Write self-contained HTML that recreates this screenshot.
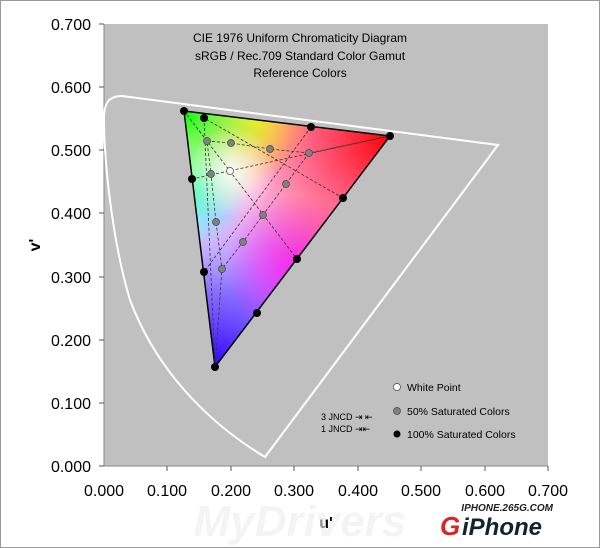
<!DOCTYPE html>
<html><head><style>body{margin:0;background:#fff}svg{display:block}</style></head><body>
<svg width="600" height="548" viewBox="0 0 600 548" xmlns="http://www.w3.org/2000/svg" font-family="Liberation Sans, sans-serif">
<defs>
<radialGradient id="gr" cx="390" cy="136" r="210" gradientUnits="userSpaceOnUse"><stop offset="0" stop-color="#ff0000"/><stop offset="0.55" stop-color="#ff0050" stop-opacity="0.45"/><stop offset="1" stop-color="#ff00ff" stop-opacity="0"/></radialGradient>
<radialGradient id="gg" cx="184" cy="111" r="110" gradientUnits="userSpaceOnUse"><stop offset="0" stop-color="#00ff00"/><stop offset="0.5" stop-color="#80ff40" stop-opacity="0.55"/><stop offset="1" stop-color="#ffff00" stop-opacity="0"/></radialGradient>
<radialGradient id="gb" cx="215" cy="367" r="190" gradientUnits="userSpaceOnUse"><stop offset="0" stop-color="#3000ff"/><stop offset="0.4" stop-color="#6040ff" stop-opacity="0.75"/><stop offset="1" stop-color="#c080ff" stop-opacity="0"/></radialGradient>
<radialGradient id="gy" cx="250" cy="116" r="65" gradientUnits="userSpaceOnUse"><stop offset="0" stop-color="#ffff00" stop-opacity="0.9"/><stop offset="1" stop-color="#ffc000" stop-opacity="0"/></radialGradient>
<radialGradient id="gc" cx="195" cy="190" r="55" gradientUnits="userSpaceOnUse"><stop offset="0" stop-color="#00ffff" stop-opacity="0.8"/><stop offset="1" stop-color="#00ffff" stop-opacity="0"/></radialGradient>
<radialGradient id="gm" cx="300" cy="270" r="75" gradientUnits="userSpaceOnUse"><stop offset="0" stop-color="#ff00ff" stop-opacity="0.8"/><stop offset="1" stop-color="#ff00ff" stop-opacity="0"/></radialGradient>
<radialGradient id="gw" cx="232" cy="172" r="45" gradientUnits="userSpaceOnUse"><stop offset="0" stop-color="#fff" stop-opacity="0.9"/><stop offset="1" stop-color="#fff" stop-opacity="0"/></radialGradient>
<clipPath id="tri"><polygon points="390,136 184,111 215,367"/></clipPath>
</defs>
<rect x="0.5" y="0.5" width="599" height="547" fill="#fff" stroke="#999"/>
<rect x="104" y="24" width="444" height="442" fill="#c0c0c0"/>
<path d="M104,24V466H548" fill="none" stroke="#888"/>
<g stroke="#555">
<line x1="99" y1="24" x2="104" y2="24"/><line x1="99" y1="87" x2="104" y2="87"/><line x1="99" y1="150" x2="104" y2="150"/><line x1="99" y1="213" x2="104" y2="213"/><line x1="99" y1="277" x2="104" y2="277"/><line x1="99" y1="340" x2="104" y2="340"/><line x1="99" y1="403" x2="104" y2="403"/><line x1="99" y1="466" x2="104" y2="466"/>
<line x1="167" y1="466" x2="167" y2="471"/><line x1="231" y1="466" x2="231" y2="471"/><line x1="294" y1="466" x2="294" y2="471"/><line x1="358" y1="466" x2="358" y2="471"/><line x1="421" y1="466" x2="421" y2="471"/><line x1="485" y1="466" x2="485" y2="471"/><line x1="548" y1="466" x2="548" y2="471"/>
</g>
<g font-size="16" text-anchor="end" fill="#000">
<text x="91" y="30">0.700</text><text x="91" y="93">0.600</text><text x="91" y="156">0.500</text><text x="91" y="219">0.400</text><text x="91" y="283">0.300</text><text x="91" y="346">0.200</text><text x="91" y="409">0.100</text><text x="91" y="472">0.000</text>
</g>
<g font-size="16" text-anchor="middle">
<text x="104" y="496">0.000</text><text x="167" y="496">0.100</text><text x="231" y="496">0.200</text><text x="294" y="496">0.300</text><text x="358" y="496">0.400</text><text x="421" y="496">0.500</text><text x="485" y="496">0.600</text><text x="548" y="496">0.700</text>
</g>
<text x="326" y="528" font-size="16" font-weight="bold" text-anchor="middle">u'</text>
<text x="40" y="245" font-size="16" font-weight="bold" text-anchor="middle" transform="rotate(-90 40 245)">v'</text>
<g font-size="12" text-anchor="middle"><text x="300" y="42">CIE 1976 Uniform Chromaticity Diagram</text><text x="300" y="60">sRGB / Rec.709 Standard Color Gamut</text><text x="300" y="77">Reference Colors</text></g>
<path d="M498,145 L122,96 C109,96 104,103 104,118 C104,160 112,240 130,300 C160,380 220,430 265,457 L498,145 Z" fill="none" stroke="#fff" stroke-width="2"/>
<g clip-path="url(#tri)">
<rect x="180" y="100" width="220" height="280" fill="#fff"/>
<rect x="180" y="100" width="220" height="280" fill="url(#gb)"/>
<rect x="180" y="100" width="220" height="280" fill="url(#gm)"/>
<rect x="180" y="100" width="220" height="280" fill="url(#gr)"/>
<rect x="180" y="100" width="220" height="280" fill="url(#gc)"/>
<rect x="180" y="100" width="220" height="280" fill="url(#gy)"/>
<rect x="180" y="100" width="220" height="280" fill="url(#gg)"/>
<rect x="180" y="100" width="220" height="280" fill="url(#gw)"/>
</g>
<polygon points="390,136 184,111 215,367" fill="none" stroke="#000" stroke-width="1.5"/>
<g stroke="#333" stroke-width="0.8" stroke-dasharray="3,2" fill="none">
<line x1="184" y1="111" x2="297" y2="259"/><line x1="390" y1="136" x2="192" y2="179"/><line x1="204" y1="118" x2="215" y2="367"/>
<line x1="311" y1="127" x2="204" y2="272"/><line x1="343" y1="198" x2="204" y2="118"/>
<polyline points="207,141 231,143 270,149 309,153 390,136"/>
<polyline points="184,111 207,141 211,174 216,222 222,269 215,367"/>
<polyline points="309,153 286,184 263,215 243,242 222,269"/>
</g>
<g fill="#808080" stroke="#444" stroke-width="0.7">
<circle cx="207" cy="141" r="3.5"/><circle cx="231" cy="143" r="3.5"/><circle cx="270" cy="149" r="3.5"/><circle cx="309" cy="153" r="3.5"/><circle cx="211" cy="174" r="3.5"/><circle cx="286" cy="184" r="3.5"/><circle cx="263" cy="215" r="3.5"/><circle cx="216" cy="222" r="3.5"/><circle cx="243" cy="242" r="3.5"/><circle cx="222" cy="269" r="3.5"/>
</g>
<circle cx="230" cy="171" r="3.5" fill="#fff" stroke="#444" stroke-width="0.7"/>
<g fill="#000">
<circle cx="184" cy="111" r="4"/><circle cx="204" cy="118" r="4"/><circle cx="311" cy="127" r="4"/><circle cx="390" cy="136" r="4"/><circle cx="192" cy="179" r="4"/><circle cx="204" cy="272" r="4"/><circle cx="343" cy="198" r="4"/><circle cx="297" cy="259" r="4"/><circle cx="257" cy="313" r="4"/><circle cx="215" cy="367" r="4"/>
</g>
<circle cx="397" cy="387" r="3.5" fill="#fff" stroke="#444" stroke-width="0.7"/>
<circle cx="397" cy="411" r="3.5" fill="#808080" stroke="#444" stroke-width="0.7"/>
<circle cx="397" cy="434" r="3.5" fill="#000"/>
<g font-size="10.5"><text x="407" y="391">White Point</text><text x="407" y="415">50% Saturated Colors</text><text x="407" y="438">100% Saturated Colors</text></g>
<g font-size="9"><text x="321" y="420">3 JNCD ⇥ ⇤</text><text x="321" y="432">1 JNCD ⇥⇤</text></g>
<text x="300" y="536" font-size="44" font-style="italic" font-weight="bold" fill="#eee" text-anchor="middle" opacity="0.6">MyDrivers</text>
<text x="553" y="511" font-size="10" font-weight="bold" font-style="italic" fill="#222" text-anchor="end">IPHONE.265G.COM</text>
<text x="440" y="535" font-size="26" font-weight="bold" font-style="italic" fill="#d22">G</text>
<text x="462" y="535" font-size="24" font-weight="bold" font-style="italic" fill="#123">iPhone</text>
</svg>
</body></html>
